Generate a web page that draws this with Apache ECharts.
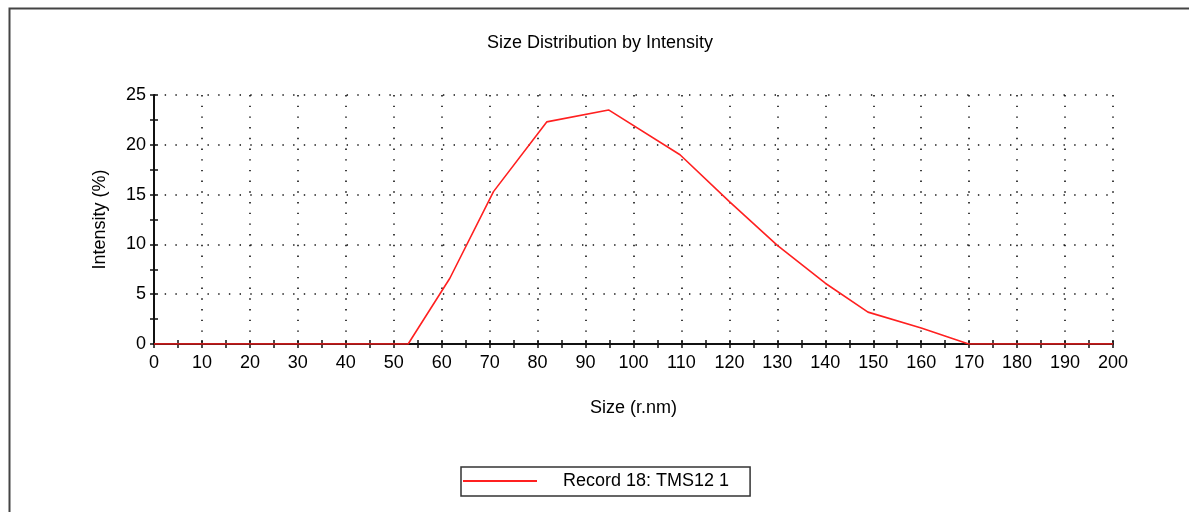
<!DOCTYPE html>
<html>
<head>
<meta charset="utf-8">
<script src="https://cdn.jsdelivr.net/npm/echarts@6/dist/echarts.min.js"></script>
<style>
html,body{margin:0;padding:0;background:#fff;}
#chart{width:1189px;height:512px;}
</style>
</head>
<body>
<div id="chart"></div>
<script>
const titleText = 'Size Distribution by Intensity';
const xAxisName = 'Size (r.nm)';
const yAxisName = 'Intensity (%)';
const seriesName = 'Record 18: TMS12 1';
const sizes =     [0, 53.0, 61.7, 70.8, 81.9, 94.8, 109.7, 120.0, 130.0, 140.0, 148.9, 160.0, 169.9, 200];
const intensity = [0, 0,    6.6,  15.3, 22.3, 23.5, 19.0,  14.3,  9.9,   6.1,   3.2,   1.6,   0,     0];

const font = 'Liberation Sans, Arial, sans-serif';
const fs = 18;
const chart = echarts.init(document.getElementById('chart'), null, {renderer: 'canvas'});

function baseX(extra) {
  return Object.assign({
    type: 'value', min: 0, max: 200, interval: 10,
    gridIndex: 0, position: 'bottom'
  }, extra);
}
function baseY(extra) {
  return Object.assign({
    type: 'value', min: 0, max: 25, interval: 5,
    gridIndex: 0, position: 'left'
  }, extra);
}
const tickStyle = {color: '#111', width: 1.5};
const gridStyle = {color: '#111', width: 1.6, type: [1.4, 9.3]};

chart.setOption({
  animation: false,
  backgroundColor: '#fff',
  title: {
    text: titleText, left: 482, top: 29,
    textStyle: {fontFamily: font, fontSize: fs, fontWeight: 'normal', color: '#000'}
  },
  grid: {left: 154, right: 76, top: 95, bottom: 168, containLabel: false},
  legend: {
    show: true,
    data: [{name: seriesName, icon: 'rect'}], left: 461, top: 467,
    orient: 'horizontal', itemWidth: 74, itemHeight: 2,
    borderColor: '#333', borderWidth: 1.5, padding: [5, 21, 6, 2],
    textStyle: {fontFamily: font, fontSize: fs, color: '#000', padding: [0, 0, 0, 21]}
  },
  xAxis: [
    baseX({
      name: xAxisName, nameLocation: 'middle', nameGap: 55,
      nameTextStyle: {fontFamily: font, fontSize: fs, color: '#000'},
      axisLine: {show: true, onZero: false, lineStyle: {color: '#111', width: 2}},
      axisTick: {show: true, inside: false, length: 4, lineStyle: tickStyle},
      minorTick: {show: true, splitNumber: 2, length: 4, lineStyle: tickStyle},
      axisLabel: {fontFamily: font, fontSize: fs, color: '#000', margin: 10},
      splitLine: {show: true, lineStyle: gridStyle}
    }),
    baseX({
      axisLine: {show: false},
      axisTick: {show: true, inside: true, length: 4, lineStyle: tickStyle},
      minorTick: {show: true, splitNumber: 2, length: 4, lineStyle: tickStyle},
      axisLabel: {show: false}, splitLine: {show: false}
    })
  ],
  yAxis: [
    baseY({
      name: yAxisName, nameLocation: 'middle', nameGap: 45, nameRotate: 90,
      nameTextStyle: {fontFamily: font, fontSize: fs, color: '#000'},
      axisLine: {show: true, onZero: false, lineStyle: {color: '#111', width: 2}},
      axisTick: {show: true, inside: false, length: 4, lineStyle: tickStyle},
      minorTick: {show: true, splitNumber: 2, length: 4, lineStyle: tickStyle},
      axisLabel: {fontFamily: font, fontSize: fs, color: '#000', margin: 8},
      splitLine: {show: true, lineStyle: gridStyle}
    }),
    baseY({
      axisLine: {show: false},
      axisTick: {show: true, inside: true, length: 4, lineStyle: tickStyle},
      minorTick: {show: true, splitNumber: 2, length: 4, lineStyle: tickStyle},
      axisLabel: {show: false}, splitLine: {show: false}
    })
  ],
  series: [{
    name: seriesName, type: 'line', xAxisIndex: 0, yAxisIndex: 0,
    data: sizes.map((s, i) => [s, intensity[i]]),
    showSymbol: false, symbol: 'none', z: 5,
    lineStyle: {color: '#ff2020', width: 1.6},
    itemStyle: {color: '#ff2020'}
  }],
  graphic: [{
    type: 'rect', left: 7, top: 6, silent: true, z: -10,
    shape: {x: 0, y: 0, width: 1300, height: 600},
    style: {fill: 'none', stroke: '#444', lineWidth: 2}
  }]
});
</script>
</body>
</html>
